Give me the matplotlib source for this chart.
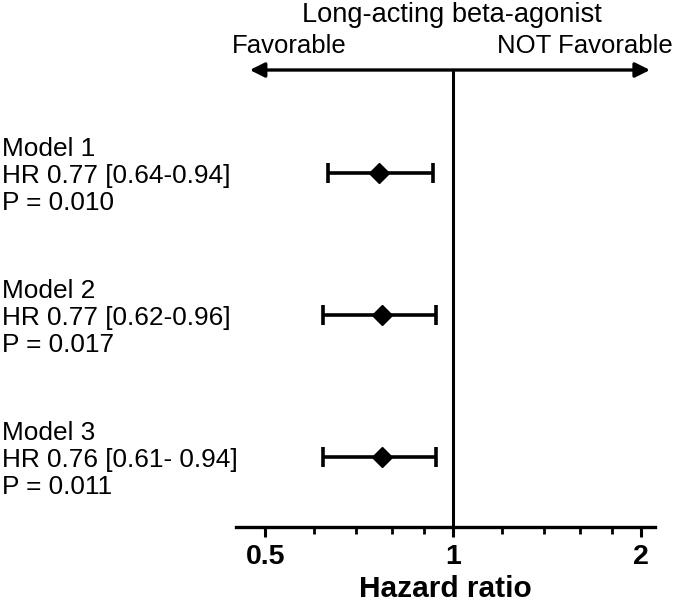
import numpy as np
import matplotlib
matplotlib.use("Agg")
import matplotlib.pyplot as plt
from matplotlib.ticker import FixedLocator, NullFormatter

plt.rcParams['font.family'] = ['Liberation Sans', 'DejaVu Sans']

# --- data ---
models = ["Model 1", "Model 2", "Model 3"]
hr_text = ["HR 0.77 [0.64-0.94]", "HR 0.77 [0.62-0.96]", "HR 0.76 [0.61- 0.94]"]
p_text = ["P = 0.010", "P = 0.017", "P = 0.011"]
hr_point = [0.76, 0.77, 0.77]
ci_low = [0.63, 0.62, 0.62]
ci_high = [0.93, 0.94, 0.94]
major_ticks = [0.5, 1, 2]
major_labels = ["0.5", "1", "2"]
minor_ticks = [0.6, 0.7, 0.8, 0.9, 1.2, 1.4, 1.6, 1.8]

fig = plt.figure(figsize=(6.85, 6.08), dpi=100)
ax = fig.add_axes([236 / 685, 1 - 527 / 608, 419 / 685, 457 / 608])

rows = np.arange(1, len(models) + 1)
hr = np.array(hr_point)
err = [hr - np.array(ci_low), np.array(ci_high) - hr]
ax.errorbar(hr, rows, xerr=err, fmt='D', color='black', markersize=10,
            elinewidth=2.6, capsize=7, capthick=2.6, zorder=3)

ax.set_xscale('log')
ax.set_xlim(0.449, 2.11)
ax.set_ylim(3.49, 0.275)
ax.axvline(1, color='black', lw=2.2, zorder=2)

ax.xaxis.set_major_locator(FixedLocator(major_ticks))
ax.set_xticklabels(major_labels)
ax.xaxis.set_minor_locator(FixedLocator(minor_ticks))
ax.xaxis.set_minor_formatter(NullFormatter())
ax.tick_params(axis='x', which='major', length=7, width=2.2, labelsize=20.5, pad=5)
ax.tick_params(axis='x', which='minor', length=5, width=2.0)
for lab in ax.get_xticklabels():
    lab.set_fontweight('bold')
ax.set_yticks([])
for s in ['top', 'left', 'right']:
    ax.spines[s].set_visible(False)
ax.spines['bottom'].set_linewidth(2.4)
ax.set_xlabel("Hazard ratio", fontsize=21.5, fontweight='bold', labelpad=4)

# double arrow on top
ax.annotate('', xy=(0.033, 1.0), xytext=(0.988, 1.0), xycoords='axes fraction',
            arrowprops=dict(arrowstyle='<|-|>', color='black', lw=2.4,
                            mutation_scale=22, shrinkA=0, shrinkB=0))
fig.text(452 / 685, 1 - 22 / 608, "Long-acting beta-agonist", fontsize=19.6,
         ha='center', va='baseline')
fig.text(232 / 685, 1 - 53 / 608, "Favorable", fontsize=18.5, ha='left', va='baseline')
fig.text(673 / 685, 1 - 53 / 608, "NOT Favorable", fontsize=18.5, ha='right', va='baseline')

# left-side labels, three lines per model
offsets = [-17, 10, 37]  # pixel offsets of baselines relative to the row
for r, lines in zip(rows, zip(models, hr_text, p_text)):
    for off, line in zip(offsets, lines):
        ax.annotate(line, xy=(0, r), xycoords=('figure fraction', 'data'),
                    xytext=(2 * 0.72, -off * 0.72), textcoords='offset points',
                    fontsize=18.9, ha='left', va='baseline')

fig.savefig("out.png", dpi=100)
